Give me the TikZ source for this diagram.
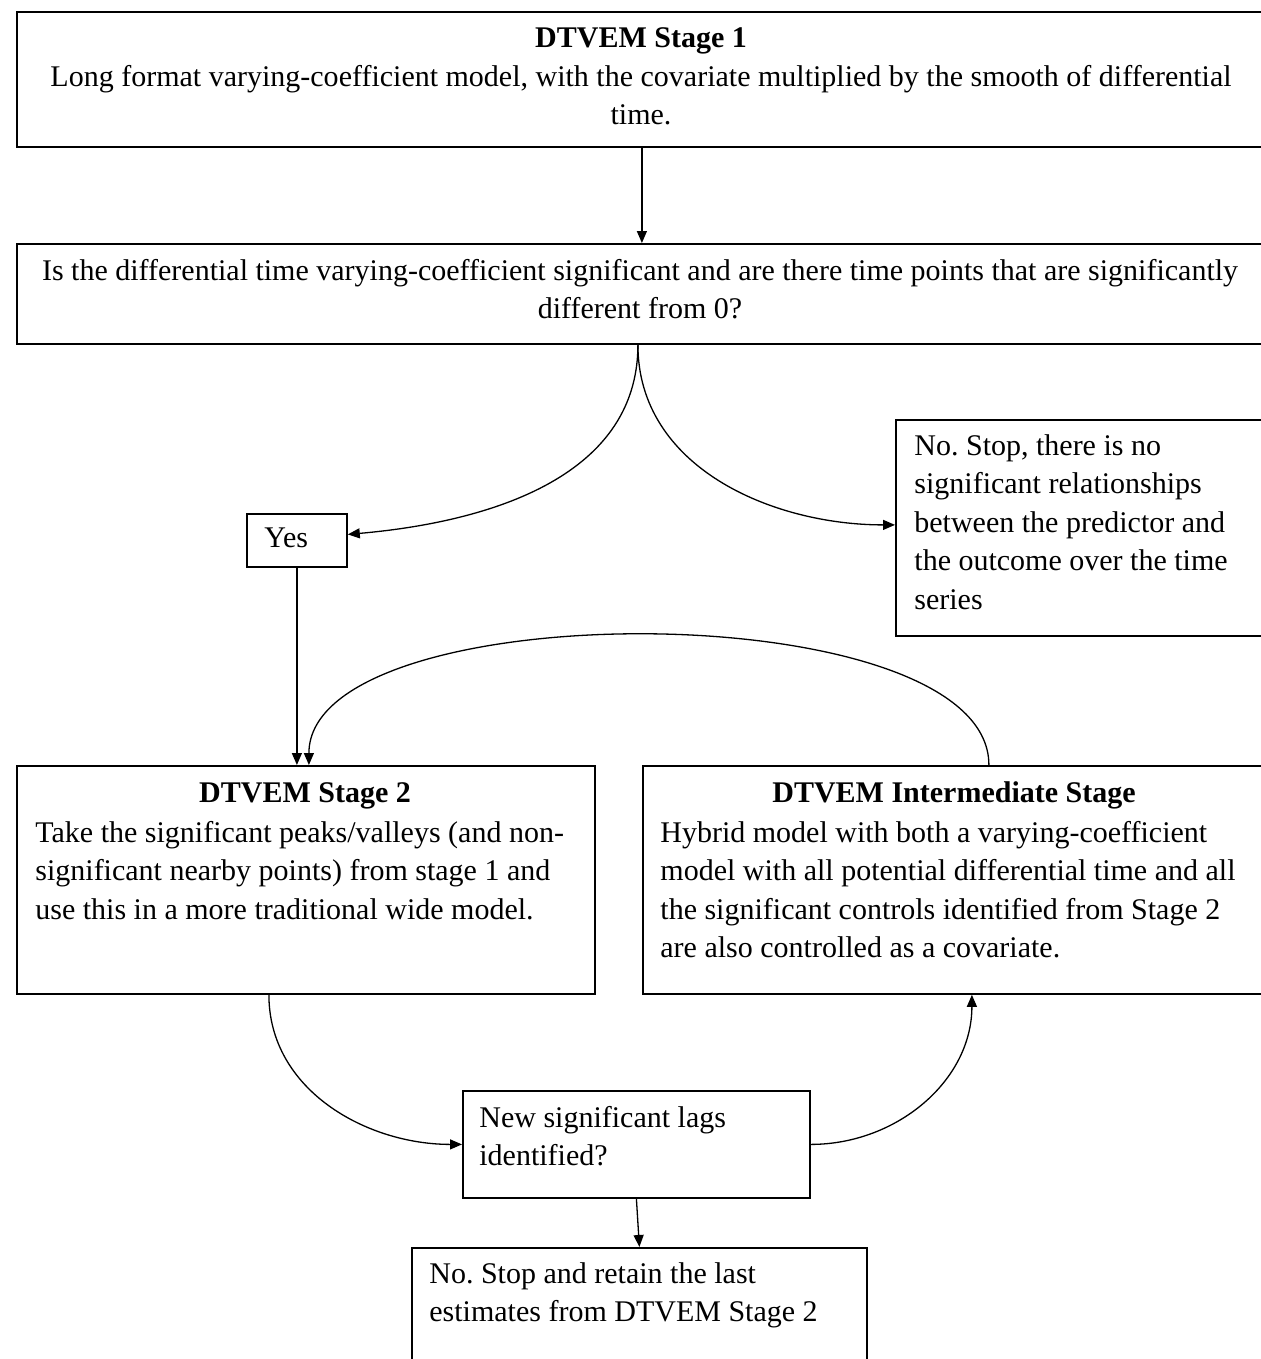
\documentclass[tikz,border=0pt]{standalone}
\usepackage{fontspec}
\setmainfont{Liberation Serif}
\usetikzlibrary{arrows.meta,calc}
\frenchspacing
\begin{document}
\begin{tikzpicture}[x=0.5pt,y=-0.5pt,
  box/.style={draw, line width=0.9pt, inner sep=0pt, anchor=north west, rectangle},
  txt/.style={inner sep=0pt, font=\fontsize{15pt}{19.25pt}\selectfont},
  arr/.style={line width=0.65pt, -{Triangle[length=6pt,width=5pt]}}]
\useasboundingbox (0,0) rectangle (1261,1359);
\clip (0,0) rectangle (1261,1359);
\fill[white] (0,0) rectangle (1261,1359);
% boxes
\node[box, minimum width=625pt, minimum height=67.5pt] (s1) at (16,11) {};
\node[box, minimum width=625pt, minimum height=50pt] (q) at (16,243) {};
\node[box, minimum width=50pt, minimum height=26.5pt] (yes) at (246,513) {};
\node[box, minimum width=185.5pt, minimum height=108pt] (no) at (895,419) {};
\node[box, minimum width=289pt, minimum height=114pt] (s2) at (16,765) {};
\node[box, minimum width=312pt, minimum height=114pt] (im) at (642,765) {};
\node[box, minimum width=173.5pt, minimum height=53.5pt] (new) at (462,1090) {};
\node[box, minimum width=227.5pt, minimum height=76.5pt] (fin) at (411,1247) {};
% texts
\node[txt, anchor=north, align=center] (t1) at (641,20.55) {\strut\textbf{DTVEM Stage 1}\\Long format varying-coefficient model, with the covariate multiplied by the smooth of differential\\time.};
\node[txt, anchor=north, align=center] (tq) at (640,253.05) {\strut Is the differential time varying-coefficient significant and are there time points that are significantly\\different from 0?};
\node[txt, anchor=north west, align=left] (tno) at (914,428.05) {\strut No. Stop, there is no\\significant relationships\\between the predictor and\\the outcome over the time\\series};
\node[txt, anchor=north west, align=left] (tyes) at (264,520.05) {\strut Yes};
\node[txt, anchor=north, align=center] (t2h) at (305,775.05) {\strut\textbf{DTVEM Stage 2}};
\node[txt, anchor=north west, align=left] (t2b) at (35,815.05) {\strut Take the significant peaks/valleys (and non-\\significant nearby points) from stage 1 and\\use this in a more traditional wide model.};
\node[txt, anchor=north, align=center] (tih) at (954,775.05) {\strut\textbf{DTVEM Intermediate Stage}};
\node[txt, anchor=north west, align=left] (tib) at (660,815.05) {\strut Hybrid model with both a varying-coefficient\\model with all potential differential time and all\\the significant controls identified from Stage 2\\are also controlled as a covariate.};
\node[txt, anchor=north west, align=left] (tnew) at (479,1100.05) {\strut New significant lags\\identified?};
\node[txt, anchor=north west, align=left] (tfin) at (429,1256.05) {\strut No. Stop and retain the last\\estimates from DTVEM Stage 2};
% connectors
\coordinate (qs) at ($(q.south)+(-4,0)$);
\draw[arr] (s1.south) -- (q.north);
\draw[arr] (qs) to[out=-90,in=5] ($(yes.east)+(0,-6)$);
\draw[arr] (qs) to[out=-90,in=180] ($(no.west)+(0,-3)$);
\draw[arr] (yes.south) -- (yes.south |- s2.north);
\draw[arr] ($(im.north)+(34,0)$) .. controls +(0,-173) and +(0,-173) .. ($(s2.north)+(3,0)$);
\draw[arr] ($(s2.south)+(-37,0)$) to[out=-90,in=180] (new.west);
\draw[arr] (new.east) to[out=0,in=-90] ($(im.south)+(17,0)$);
\draw[arr] (new.south) -- (fin.north);
\end{tikzpicture}
\end{document}
